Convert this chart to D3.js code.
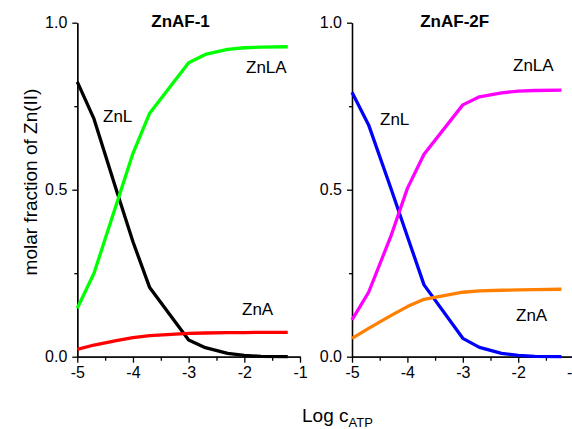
<!DOCTYPE html>
<html>
<head>
<meta charset="utf-8">
<script src="https://d3js.org/d3.v7.min.js"></script>
<style>
  body { margin: 0; background: #fff; }
  svg { display: block; font-family: "Liberation Sans", Arial, sans-serif; }
  .axis path, .axis line { stroke: #000; stroke-width: 1.3; }
  .axis text { font-size: 16px; fill: #000; }
</style>
</head>
<body>
<svg width="572" height="429"></svg>
<script>
// log of ATP concentration (x positions of the computed points)
var logC = [-5, -4.7, -4.3, -4, -3.7, -3, -2.7, -2.3, -2, -1.7, -1.22];

// ZnAF-1 species
var af1ZnL  = [0.823, 0.712, 0.500, 0.344, 0.207, 0.050, 0.027, 0.010, 0.004, 0.001, 0.000];
var af1ZnLA = [0.145, 0.250, 0.455, 0.609, 0.729, 0.880, 0.905, 0.920, 0.925, 0.927, 0.928];
var af1ZnA  = [0.022, 0.035, 0.048, 0.057, 0.063, 0.070, 0.071, 0.072, 0.072, 0.073, 0.073];

// ZnAF-2F species
var af2ZnL  = [0.792, 0.694, 0.505, 0.360, 0.215, 0.055, 0.028, 0.010, 0.004, 0.001, 0.000];
var af2ZnLA = [0.110, 0.193, 0.360, 0.504, 0.606, 0.754, 0.778, 0.790, 0.795, 0.797, 0.798];
var af2ZnA  = [0.055, 0.085, 0.123, 0.150, 0.172, 0.193, 0.197, 0.199, 0.200, 0.201, 0.202];

var xTicks = [-5, -4, -3, -2, -1],
    xMinor = [-4.5, -3.5, -2.5, -1.5],
    yTicks = [0, 0.5, 1],
    yMinor = [0.25, 0.75];

var panels = [
  { title: "ZnAF-1", left: 77.3, right: 300,
    series: [
      { name: "ZnL",  values: af1ZnL,  color: "#000000", lx: 103, ly: 122 },
      { name: "ZnLA", values: af1ZnLA, color: "#00ff00", lx: 246, ly: 73 },
      { name: "ZnA",  values: af1ZnA,  color: "#ff0000", lx: 242, ly: 315 }
    ] },
  { title: "ZnAF-2F", left: 352, right: 573.6,
    series: [
      { name: "ZnL",  values: af2ZnL,  color: "#0000ff", lx: 380, ly: 125 },
      { name: "ZnLA", values: af2ZnLA, color: "#ff00ff", lx: 513, ly: 71 },
      { name: "ZnA",  values: af2ZnA,  color: "#ff8000", lx: 516, ly: 321 }
    ] }
];

var svg = d3.select("svg");

var y = d3.scaleLinear()
    .domain([0, 1])
    .range([356.7, 22.7]);

var format = d3.format(".1f");

panels.forEach(function(p) {
  var x = d3.scaleLinear()
      .domain([-5, -1])
      .range([p.left, p.right]);

  var g = svg.append("g");

  // minor ticks first, then major axes on top
  g.append("g")
      .attr("class", "axis")
      .attr("transform", "translate(0," + y(0) + ")")
      .call(d3.axisBottom(x).tickValues(xMinor).tickSize(4).tickSizeOuter(0).tickFormat(""));

  g.append("g")
      .attr("class", "axis")
      .attr("transform", "translate(0," + y(0) + ")")
      .call(d3.axisBottom(x).tickValues(xTicks).tickSize(6).tickSizeOuter(0).tickPadding(4)
        .tickFormat(function(d) { return String(d); }));

  g.append("g")
      .attr("class", "axis")
      .attr("transform", "translate(" + x(-5) + ",0)")
      .call(d3.axisLeft(y).tickValues(yMinor).tickSize(3).tickSizeOuter(0).tickFormat(""));

  g.append("g")
      .attr("class", "axis")
      .attr("transform", "translate(" + x(-5) + ",0)")
      .call(d3.axisLeft(y).tickValues(yTicks).tickSize(5).tickSizeOuter(0).tickPadding(5)
        .tickFormat(format));

  var line = d3.line()
      .x(function(d, i) { return x(logC[i]); })
      .y(function(d) { return y(d); });

  g.selectAll(".series")
    .data(p.series)
    .enter().append("path")
      .attr("class", "series")
      .attr("fill", "none")
      .attr("stroke", function(d) { return d.color; })
      .attr("stroke-width", 3.3)
      .attr("stroke-linejoin", "round")
      .attr("d", function(d) { return line(d.values); });

  g.selectAll(".label")
    .data(p.series)
    .enter().append("text")
      .attr("class", "label")
      .attr("x", function(d) { return d.lx; })
      .attr("y", function(d) { return d.ly; })
      .attr("font-size", 17)
      .text(function(d) { return d.name; });

  g.append("text")
      .attr("x", (x(-5) + x(-1.22)) / 2 - 2)
      .attr("y", 27)
      .attr("text-anchor", "middle")
      .attr("font-size", 17)
      .attr("font-weight", "bold")
      .text(p.title);
});

svg.append("text")
    .attr("transform", "translate(37,182) rotate(-90)")
    .attr("text-anchor", "middle")
    .attr("font-size", 19)
    .text("molar fraction of Zn(II)");

var xl = svg.append("text")
    .attr("x", 302)
    .attr("y", 422)
    .attr("font-size", 19);
xl.append("tspan").text("Log c");
xl.append("tspan")
    .attr("font-size", 13)
    .attr("dy", 5)
    .text("ATP");
</script>
</body>
</html>
